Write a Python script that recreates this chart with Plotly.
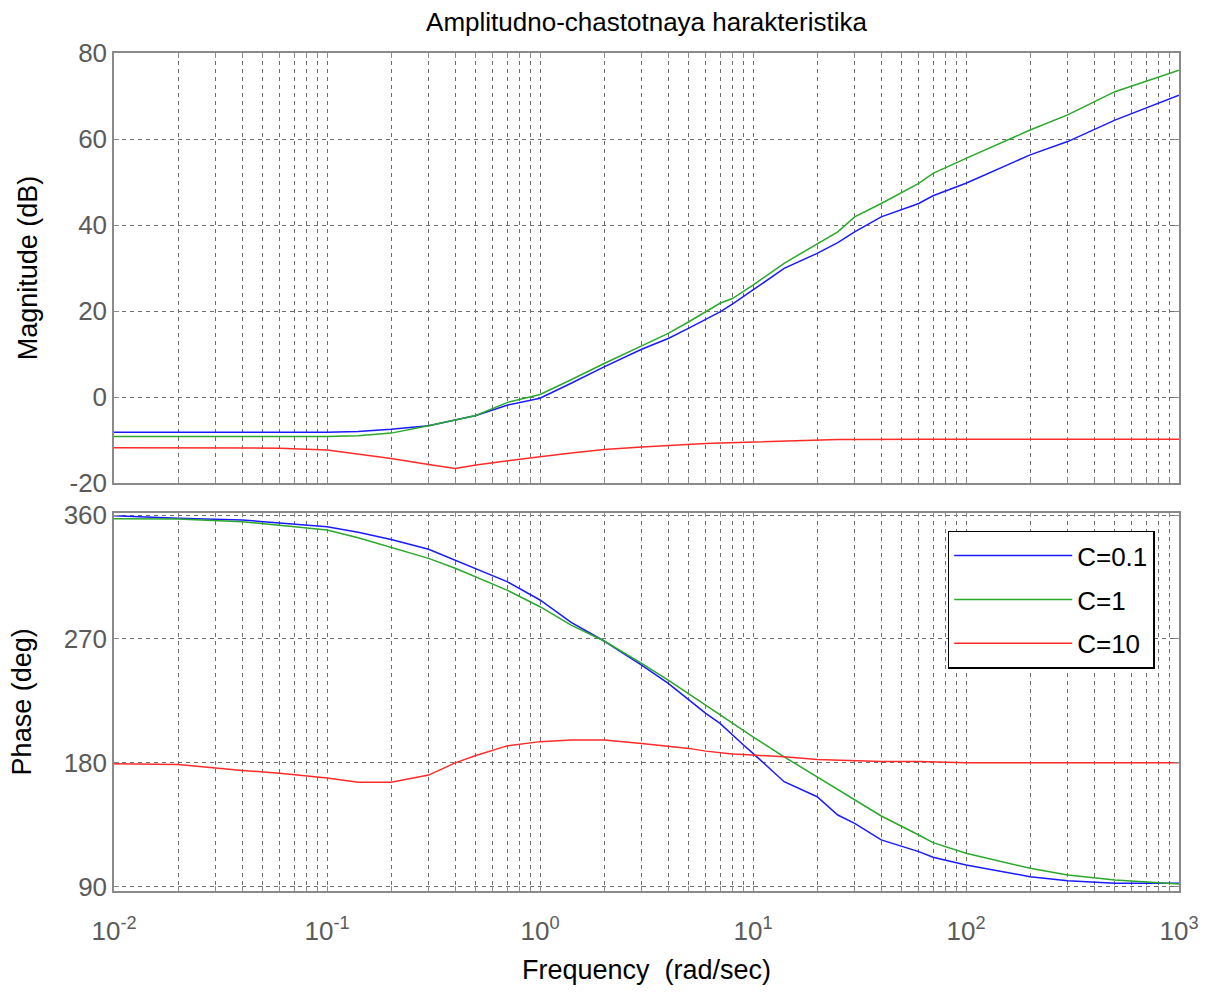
import plotly.graph_objects as go

# ---------------- data ----------------
freq = [0.01, 0.02, 0.04, 0.06, 0.1, 0.14, 0.2, 0.3, 0.4, 0.5, 0.7, 1, 1.4, 2, 3, 4, 5, 6, 7, 8, 9,
        10, 14, 20, 25, 30, 40, 60, 70, 100, 200, 300, 500, 1000]

mag_c01 = [-8.2, -8.2, -8.2, -8.2, -8.2, -8.0, -7.5, -6.7, -5.3, -4.3, -1.9, -0.3, 3.2, 7.0, 11.1, 13.6,
           16.0, 18.1, 19.8, 21.6, 23.3, 24.9, 29.9, 33.4, 35.9, 38.4, 41.9, 45.0, 46.8, 49.7, 56.3, 59.4,
           64.4, 70.2]
mag_c1 = [-9.2, -9.2, -9.2, -9.2, -9.2, -9.0, -8.4, -6.7, -5.3, -4.3, -1.3, 0.6, 4.0, 7.8, 11.9, 14.8,
          17.5, 19.8, 21.8, 22.9, 24.5, 26.0, 31.1, 35.7, 38.4, 41.9, 45.0, 49.7, 52.0, 55.5, 62.1, 65.6,
          71.0, 76.0]
mag_c10 = [-11.8, -11.8, -11.8, -11.9, -12.3, -13.2, -14.3, -15.7, -16.6, -15.8, -14.8, -13.9, -13.0, -12.2,
           -11.6, -11.2, -11.0, -10.8, -10.7, -10.6, -10.6, -10.5, -10.2, -10.0, -9.9, -9.9, -9.8, -9.8,
           -9.8, -9.8, -9.8, -9.8, -9.8, -9.8]

ph_c01 = [359.5, 357.6, 356.4, 354.0, 351.5, 347.5, 342.3, 335.1, 327.3, 321.3, 311.6, 298.3, 282.0, 268.5,
          251.0, 237.7, 225.6, 216.0, 208.7, 200.2, 193.1, 186.9, 166.3, 155.4, 142.1, 136.0, 124.0, 115.5,
          111.4, 105.8, 97.3, 94.4, 92.5, 92.5]
ph_c1 = [357.3, 357.1, 355.2, 352.3, 349.1, 343.5, 336.5, 328.5, 321.3, 315.2, 305.5, 293.4, 280.0, 268.5,
         252.3, 240.1, 230.0, 222.0, 215.2, 209.1, 203.8, 198.9, 184.4, 169.9, 160.7, 153.0, 141.4, 127.6,
         122.0, 114.3, 103.4, 98.5, 94.9, 92.0]
ph_c10 = [179.3, 178.7, 174.5, 172.5, 169.0, 165.9, 165.9, 171.1, 180.0, 185.3, 192.3, 195.4, 196.6, 196.6,
          194.0, 191.8, 190.5, 188.5, 187.3, 186.5, 186.0, 185.7, 184.4, 182.5, 182.0, 181.5, 181.0, 181.0,
          180.8, 180.0, 180.0, 180.0, 180.0, 180.0]

series_names = ["C=0.1", "C=1", "C=10"]
series_colors = ["#1a1aff", "#2aa82a", "#ff2a2a"]
mag_data = [mag_c01, mag_c1, mag_c10]
ph_data = [ph_c01, ph_c1, ph_c10]

decades = [-2, -1, 0, 1, 2, 3]
mag_ticks = [-20, 0, 20, 40, 60, 80]
mag_ticktext = ["-20", "0", "20", "40", "60", "80"]
ph_ticks = [90, 180, 270, 360]

# ---------------- figure ----------------
FONT = "Liberation Sans, Arial, sans-serif"
fig = go.Figure()

for name, col, m in zip(series_names, series_colors, mag_data):
    fig.add_trace(go.Scatter(x=freq, y=m, mode="lines", name=name, showlegend=False,
                             line=dict(color=col, width=1.5), xaxis="x", yaxis="y"))
for i, (name, col, p) in enumerate(zip(series_names, series_colors, ph_data)):
    fig.add_trace(go.Scatter(x=freq, y=p, mode="lines", name=name, showlegend=True,
                             legendgroup="g%d" % i,
                             line=dict(color=col, width=1.5), xaxis="x2", yaxis="y2"))

xt_vals, xt_text = [], []
for d in decades:
    for n in range(1, 10):
        if d == 3 and n > 1:
            break
        xt_vals.append(n * 10.0 ** d)
        xt_text.append("10<sup>%d</sup>" % d if n == 1 else "")

grid = dict(showgrid=True, gridcolor="#6e6e6e", gridwidth=1, griddash="4px,4px",
            showline=True, linecolor="#8a8a8a", linewidth=1.5, mirror="allticks",
            ticks="inside", ticklen=5, tickcolor="#8a8a8a", zeroline=False)

plot_top, plot_bot = 53, 891
H = 996
ph_h = plot_bot - plot_top

xcommon = dict(type="log", range=[-2, 3], tickmode="array", tickvals=xt_vals, ticktext=xt_text, **grid)

fig.update_layout(
    width=1220, height=H,
    margin=dict(l=114, r=41, t=plot_top, b=H - plot_bot),
    plot_bgcolor="white", paper_bgcolor="white",
    font=dict(family=FONT, color="#000000"),
    xaxis=dict(anchor="y", showticklabels=False, **xcommon),
    xaxis2=dict(anchor="y2", showticklabels=True, ticklabelstandoff=16,
                tickfont=dict(size=26, color="#5a5a5a"),
                title=dict(text="Frequency\u00a0 (rad/sec)", font=dict(size=27, color="#000"), standoff=15),
                **xcommon),
    yaxis=dict(domain=[(plot_bot - 483) / ph_h, 1.0], anchor="x", range=[-20, 80],
               tickmode="array", tickvals=mag_ticks, ticktext=mag_ticktext,
               tickfont=dict(size=26, color="#5a5a5a"),
               title=dict(text="Magnitude (dB)", font=dict(size=27, color="#000"), standoff=24),
               **grid),
    yaxis2=dict(domain=[0, (plot_bot - 512.7) / ph_h], anchor="x2", range=[86.9, 361.7],
                tickmode="array", tickvals=ph_ticks, tickfont=dict(size=26, color="#5a5a5a"),
                title=dict(text="Phase (deg)", font=dict(size=27, color="#000"), standoff=24),
                **grid),
    legend=dict(x=(947.7 - 114) / 1065, y=(plot_bot - 530.7) / ph_h, xanchor="left", yanchor="top",
                bgcolor="white", bordercolor="#000000", borderwidth=1.5,
                font=dict(size=26, color="#000"), itemwidth=118, tracegroupgap=7,
                traceorder="grouped"),
    title=dict(text="Amplitudno-chastotnaya harakteristika", x=(114 + 1179) / 2 / 1220, xanchor="center",
               y=1 - 22 / H, yanchor="middle", font=dict(size=26, color="#000")),
    showlegend=True,
)

fig.write_html("out.html")
